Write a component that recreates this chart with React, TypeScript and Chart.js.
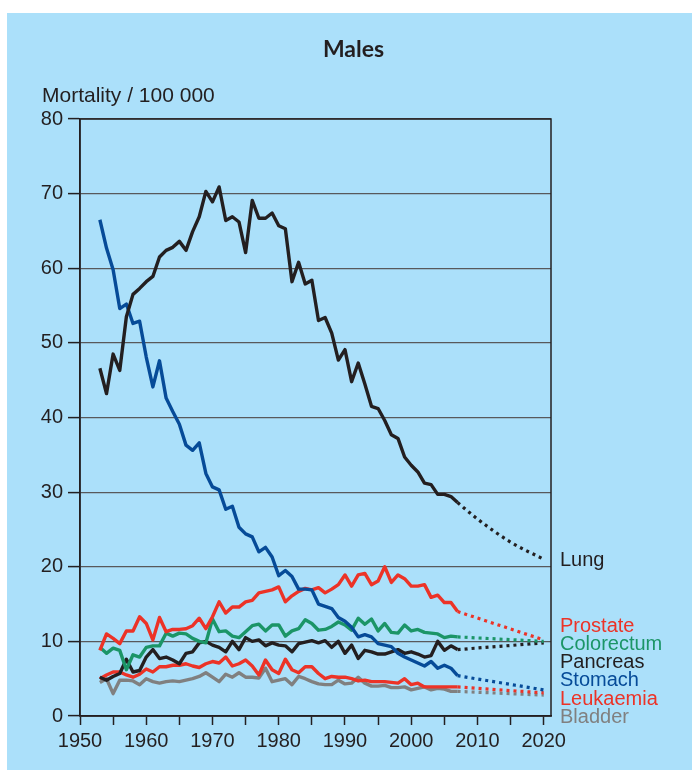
import { useEffect, useRef } from 'react';
import { Chart, registerables } from 'chart.js';

Chart.register(...registerables);

const years = [
  1953, 1954, 1955, 1956, 1957, 1958, 1959, 1960, 1961, 1962,
  1963, 1964, 1965, 1966, 1967, 1968, 1969, 1970, 1971, 1972,
  1973, 1974, 1975, 1976, 1977, 1978, 1979, 1980, 1981, 1982,
  1983, 1984, 1985, 1986, 1987, 1988, 1989, 1990, 1991, 1992,
  1993, 1994, 1995, 1996, 1997, 1998, 1999, 2000, 2001, 2002,
  2003, 2004, 2005, 2006, 2007,
];

const lung = [
  46.6, 43.2, 48.5, 46.3, 53.5, 56.5, 57.3, 58.2, 58.9, 61.5,
  62.4, 62.8, 63.6, 62.4, 64.9, 66.9, 70.3, 68.9, 70.9, 66.4,
  66.9, 66.2, 62.1, 69.1, 66.7, 66.7, 67.4, 65.7, 65.3, 58.2,
  60.8, 57.9, 58.4, 53.0, 53.4, 51.3, 47.7, 49.1, 44.8, 47.3,
  44.5, 41.5, 41.2, 39.6, 37.7, 37.2, 34.7, 33.6, 32.7, 31.2,
  31.0, 29.7, 29.7, 29.4, 28.6,
];
const stomach = [
  66.5, 62.7, 59.8, 54.6, 55.2, 52.6, 52.9, 48.1, 44.1, 47.6,
  42.6, 40.8, 39.1, 36.3, 35.6, 36.6, 32.5, 30.7, 30.3, 27.7,
  28.1, 25.3, 24.4, 24.0, 22.0, 22.6, 21.3, 18.8, 19.5, 18.7,
  17.0, 17.0, 16.9, 15.0, 14.7, 14.4, 13.2, 12.7, 11.9, 10.6,
  10.9, 10.6, 9.7, 9.5, 9.3, 8.4, 7.9, 7.5, 7.1, 6.7,
  7.3, 6.4, 6.8, 6.4, 5.4,
];
const prostate = [
  8.8, 11.0, 10.4, 9.7, 11.4, 11.4, 13.3, 12.4, 10.2, 13.2,
  11.3, 11.6, 11.6, 11.7, 12.1, 13.1, 11.7, 13.3, 15.3, 13.8,
  14.6, 14.6, 15.3, 15.5, 16.5, 16.7, 16.9, 17.3, 15.3, 16.1,
  16.7, 17.1, 16.9, 17.2, 16.5, 17.0, 17.6, 18.9, 17.4, 18.9,
  19.1, 17.6, 18.1, 20.0, 17.9, 18.9, 18.4, 17.4, 17.4, 17.6,
  15.9, 16.2, 15.2, 15.2, 14.0,
];
const colorectum = [
  9.2, 8.4, 9.1, 8.8, 6.2, 8.2, 7.9, 9.2, 9.4, 9.4,
  11.1, 10.7, 11.1, 11.0, 10.4, 10.0, 9.8, 13.0, 11.3, 11.4,
  10.7, 10.5, 11.3, 12.1, 12.3, 11.4, 12.2, 12.2, 10.7, 11.4,
  11.7, 12.9, 12.4, 11.5, 11.6, 12.0, 12.6, 12.2, 11.5, 13.1,
  12.3, 13.0, 11.4, 12.4, 11.2, 11.1, 12.2, 11.4, 11.6, 11.2,
  11.1, 11.0, 10.5, 10.7, 10.6,
];
const pancreas = [
  5.2, 4.8, 5.3, 5.7, 7.6, 5.9, 6.1, 7.9, 8.9, 7.7,
  7.9, 7.5, 7.0, 8.4, 8.6, 9.8, 10.0, 9.5, 9.2, 8.6,
  10.0, 8.9, 10.5, 10.0, 10.2, 9.4, 9.8, 9.5, 9.4, 8.6,
  9.7, 9.9, 10.1, 9.8, 10.1, 9.2, 10.0, 8.4, 9.5, 7.7,
  8.8, 8.6, 8.3, 8.3, 8.6, 8.9, 8.4, 8.6, 8.3, 7.9,
  8.1, 10.0, 8.8, 9.4, 8.9,
];
const leukaemia = [
  5.0, 5.5, 5.9, 5.9, 5.5, 5.2, 5.6, 6.3, 5.9, 6.6,
  6.6, 6.8, 6.8, 7.0, 6.7, 6.5, 7.0, 7.3, 7.1, 7.9,
  6.7, 7.0, 7.5, 6.7, 5.5, 7.5, 6.2, 5.7, 7.6, 6.2,
  5.8, 6.6, 6.6, 5.7, 5.0, 5.3, 5.2, 5.2, 5.0, 4.7,
  4.8, 4.6, 4.6, 4.6, 4.5, 4.4, 5.0, 4.2, 4.4, 3.9,
  3.9, 3.9, 3.9, 3.9, 3.9,
];
const bladder = [
  4.5, 5.0, 3.0, 4.8, 4.8, 4.7, 4.2, 5.0, 4.6, 4.4,
  4.6, 4.7, 4.6, 4.8, 5.0, 5.3, 5.8, 5.2, 4.6, 5.6,
  5.2, 5.8, 5.2, 5.2, 5.1, 6.4, 4.6, 4.8, 5.0, 4.2,
  5.3, 5.0, 4.6, 4.3, 4.2, 4.2, 4.8, 4.3, 4.4, 5.2,
  4.4, 4.0, 4.0, 4.1, 3.8, 3.8, 3.9, 3.5, 3.7, 3.9,
  3.5, 3.7, 3.6, 3.3, 3.3,
];

// Projections (dotted)
const lungProjYears = [2007, 2010, 2015, 2020];
const lungProj = [28.6, 26.4, 23.3, 21.0];
const projYears = [2007, 2020];
const prostateProj = [14.0, 10.2];
const colorectumProj = [10.6, 10.0];
const pancreasProj = [8.9, 9.8];
const stomachProj = [5.4, 3.5];
const leukaemiaProj = [3.9, 3.1];
const bladderProj = [3.3, 2.8];

const xTickValues = [1950, 1955, 1960, 1965, 1970, 1975, 1980, 1985, 1990, 1995, 2000, 2005, 2010, 2015, 2020];

const BLACK = '#231f20';
const BLUE = '#064b98';
const RED = '#ec3327';
const GREEN = '#1b9567';
const GREY = '#808080';

const legendNames = ['Prostate', 'Colorectum', 'Pancreas', 'Stomach', 'Leukaemia', 'Bladder'];
const legendColors = [RED, GREEN, BLACK, BLUE, RED, GREY];

const FONT = 'Liberation Sans';

export default function App() {
  const ref = useRef<HTMLCanvasElement>(null);

  useEffect(() => {
    if (!ref.current) return;
    const solid = (data: number[], color: string) => ({
      data: years.map((x, i) => ({ x, y: data[i] })),
      borderColor: color,
      borderWidth: 3.4,
      borderJoinStyle: 'round',
      pointRadius: 0,
      tension: 0,
      fill: false,
    });
    const dotted = (xs: number[], data: number[], color: string, tension = 0) => ({
      data: xs.map((x, i) => ({ x, y: data[i] })),
      borderColor: color,
      borderWidth: 3.2,
      borderDash: [3, 4],
      borderCapStyle: 'butt',
      pointRadius: 0,
      tension,
      cubicInterpolationMode: 'monotone',
      fill: false,
    });

    const textPlugin = {
      id: 'texts',
      afterDraw(chart: any) {
        const { ctx, chartArea: a } = chart;
        ctx.save();
        ctx.strokeStyle = BLACK;
        ctx.lineWidth = 1.5;
        ctx.strokeRect(a.left, a.top, a.right - a.left, a.bottom - a.top);

        ctx.fillStyle = BLACK;
        ctx.textBaseline = 'middle';
        ctx.textAlign = 'center';
        ctx.font = 'bold 23px Lato';
        ctx.fillText('Males', chart.width / 2 + 4, 37);

        ctx.textAlign = 'left';
        ctx.font = `21px "${FONT}"`;
        ctx.fillText('Mortality / 100 000', 35, 83);

        ctx.font = `20px "${FONT}"`;
        const yS = chart.scales.y;
        ctx.fillText('Lung', a.right + 9, yS.getPixelForValue(lungProj[lungProj.length - 1]) + 1);

        const baseY = a.bottom - 90;
        const step = 18.3;
        legendNames.forEach((n, i) => {
          ctx.fillStyle = legendColors[i];
          ctx.fillText(n, a.right + 9, baseY + i * step);
        });
        ctx.restore();
      },
    };

    const chart = new Chart(ref.current, {
      type: 'line',
      data: {
        datasets: [
          solid(lung, BLACK),
          solid(stomach, BLUE),
          solid(prostate, RED),
          solid(colorectum, GREEN),
          solid(pancreas, BLACK),
          solid(leukaemia, RED),
          solid(bladder, GREY),
          dotted(lungProjYears, lungProj, BLACK, 0.4),
          dotted(projYears, prostateProj, RED),
          dotted(projYears, colorectumProj, GREEN),
          dotted(projYears, pancreasProj, BLACK),
          dotted(projYears, stomachProj, BLUE),
          dotted(projYears, leukaemiaProj, RED),
          dotted(projYears, bladderProj, GREY),
        ] as any,
      },
      options: {
        responsive: false,
        animation: false,
        layout: { padding: { top: 106, right: 141, left: 0, bottom: 0 } },
        plugins: {
          legend: { display: false },
          tooltip: { enabled: false },
          title: { display: false },
        },
        scales: {
          x: {
            type: 'linear',
            min: 1950,
            max: 2021.1,
            afterBuildTicks: (s: any) => {
              s.ticks = xTickValues.map((v) => ({ value: v }));
            },
            afterFit: (s: any) => {
              s.height = 54;
            },
            ticks: {
              autoSkip: false,
              maxRotation: 0,
              padding: 4,
              color: BLACK,
              font: { family: FONT, size: 20 },
              callback: (v: any) => (Number(v) % 10 === 0 ? String(v) : ''),
            },
            grid: {
              drawOnChartArea: false,
              tickLength: 9,
              tickColor: BLACK,
              tickWidth: 1.5,
            },
            border: { color: BLACK, width: 1.5 },
          },
          y: {
            min: 0,
            max: 80,
            afterFit: (s: any) => {
              s.width = 73;
            },
            ticks: {
              stepSize: 10,
              padding: 5,
              color: BLACK,
              font: { family: FONT, size: 20 },
            },
            grid: {
              color: '#58595b',
              lineWidth: 1.2,
              tickLength: 12,
              tickColor: BLACK,
              tickWidth: 1.5,
            },
            border: { color: BLACK, width: 1.5 },
          },
        },
      } as any,
      plugins: [textPlugin],
    });
    return () => chart.destroy();
  }, []);

  return (
    <div
      style={{
        position: 'absolute',
        left: 7,
        top: 13,
        width: 685,
        height: 757,
        background: '#abe0fa',
      }}
    >
      <canvas ref={ref} width={685} height={757} style={{ display: 'block' }} />
    </div>
  );
}
